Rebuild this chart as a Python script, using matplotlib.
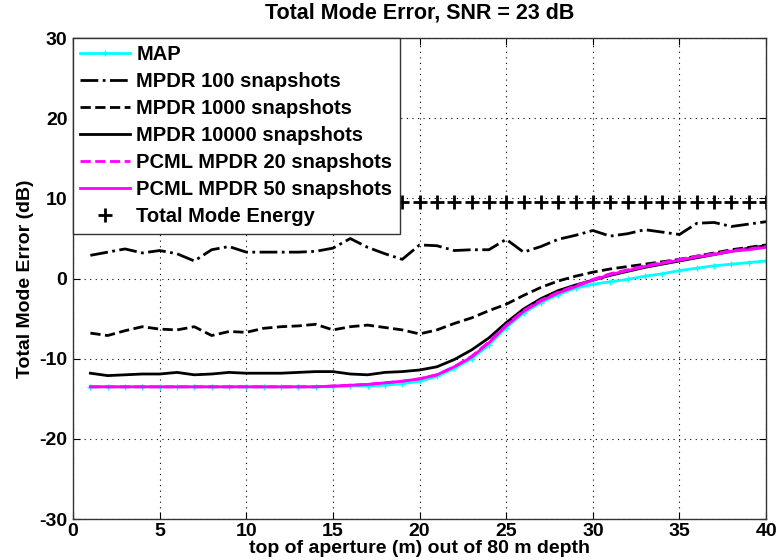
import numpy as np
import matplotlib
matplotlib.use('Agg')
import matplotlib.pyplot as plt

plt.rcParams['font.family'] = ['Liberation Sans', 'DejaVu Sans']
plt.rcParams['font.weight'] = 'bold'
plt.rcParams['axes.labelweight'] = 'bold'
plt.rcParams['axes.unicode_minus'] = False

# top of aperture (m)
x = np.arange(1, 41)

map_err = [-13.5, -13.5, -13.5, -13.5, -13.5, -13.5, -13.5, -13.5, -13.5, -13.5,
           -13.5, -13.5, -13.5, -13.5, -13.5, -13.4, -13.4, -13.3, -13.1, -12.8,
           -12.2, -11.2, -10.0, -8.3, -6.1, -4.3, -3.0, -2.0, -1.2, -0.7,
           -0.4, -0.1, 0.3, 0.6, 1.0, 1.3, 1.6, 1.8, 2.0, 2.2]

mpdr_100 = [2.9, 3.3, 3.7, 3.2, 3.5, 3.1, 2.2, 3.6, 4.0, 3.3,
            3.3, 3.3, 3.3, 3.4, 3.8, 5.0, 3.9, 3.1, 2.4, 4.2,
            4.1, 3.5, 3.6, 3.6, 4.9, 3.3, 4.0, 4.9, 5.4, 6.0,
            5.3, 5.6, 6.1, 5.8, 5.5, 6.9, 7.0, 6.5, 6.8, 7.1]

mpdr_1000 = [-6.8, -7.1, -6.5, -6.0, -6.3, -6.4, -6.0, -7.1, -6.6, -6.7,
             -6.2, -6.0, -5.9, -5.7, -6.4, -6.0, -5.8, -6.1, -6.4, -6.9,
             -6.4, -5.6, -4.9, -4.0, -3.2, -2.1, -1.1, -0.3, 0.3, 0.8,
             1.2, 1.5, 1.8, 2.1, 2.4, 2.8, 3.2, 3.6, 3.9, 4.2]

mpdr_10000 = [-11.8, -12.1, -12.0, -11.9, -11.9, -11.7, -12.0, -11.9, -11.7, -11.8,
              -11.8, -11.8, -11.7, -11.6, -11.6, -11.9, -12.0, -11.7, -11.6, -11.4,
              -11.0, -10.1, -8.9, -7.4, -5.5, -3.8, -2.5, -1.5, -0.8, -0.2,
              0.4, 0.9, 1.4, 1.8, 2.2, 2.6, 3.0, 3.4, 3.8, 4.1]

pcml_20 = [-13.5, -13.5, -13.5, -13.5, -13.5, -13.5, -13.5, -13.5, -13.5, -13.5,
           -13.5, -13.5, -13.5, -13.5, -13.4, -13.3, -13.2, -13.0, -12.8, -12.5,
           -12.0, -11.0, -9.7, -7.9, -5.8, -4.0, -2.7, -1.7, -0.9, -0.1,
           0.6, 1.1, 1.6, 2.0, 2.4, 2.8, 3.1, 3.5, 3.7, 4.0]

pcml_50 = [-13.5, -13.5, -13.5, -13.5, -13.5, -13.5, -13.5, -13.5, -13.5, -13.5,
           -13.5, -13.5, -13.5, -13.5, -13.4, -13.3, -13.2, -13.0, -12.8, -12.5,
           -12.0, -11.0, -9.8, -8.0, -5.9, -4.1, -2.8, -1.8, -1.0, -0.2,
           0.5, 1.0, 1.5, 1.9, 2.3, 2.7, 3.0, 3.4, 3.6, 3.9]

total_energy = [9.6] * 40

fig = plt.figure(figsize=(7.77, 5.6), dpi=100)
ax = fig.add_axes([0.094, 0.073, 0.892, 0.859])

ax.plot(x, map_err, '-', color='cyan', lw=2, marker='+', ms=4, mew=1, label='MAP')
ax.plot(x, mpdr_100, '-.', color='black', lw=2, label='MPDR 100 snapshots')
ax.plot(x, mpdr_1000, '--', color='black', lw=2, label='MPDR 1000 snapshots')
ax.plot(x, mpdr_10000, '-', color='black', lw=2, label='MPDR 10000 snapshots')
ax.plot(x, pcml_20, '--', color='magenta', lw=2, label='PCML MPDR 20 snapshots')
ax.plot(x, pcml_50, '-', color='magenta', lw=2, label='PCML MPDR 50 snapshots')
ax.plot(x, total_energy, '+', color='black', ms=10, mew=2, label='Total Mode Energy')

ax.set_xlim(0, 40)
ax.set_ylim(-30, 30)
ax.set_xticks(np.arange(0, 41, 5))
ax.set_yticks(np.arange(-30, 31, 10))
ax.grid(True, color='black', linestyle=(0, (1, 4)), linewidth=0.8)
ax.tick_params(direction='in', top=True, right=True, length=5, labelsize=14)
ax.tick_params(axis='x', pad=3)
ax.tick_params(axis='y', pad=4)
for s in ax.spines.values():
    s.set_linewidth(1)
    s.set_color('#333333')

ax.set_title('Total Mode Error, SNR = 23 dB', fontsize=15.5, fontweight='bold', pad=14)
ax.set_xlabel('top of aperture (m) out of 80 m depth', fontsize=14, labelpad=0)
ax.set_ylabel('Total Mode Error (dB)', fontsize=14, labelpad=4)

leg = ax.legend(loc='upper left', fontsize=14.5, borderaxespad=0, handlelength=2.5,
                labelspacing=0.4, handletextpad=0.3, borderpad=0.35, fancybox=False,
                framealpha=1, edgecolor='#333333')
leg.get_frame().set_linewidth(1)

fig.savefig('out.png', dpi=100)
